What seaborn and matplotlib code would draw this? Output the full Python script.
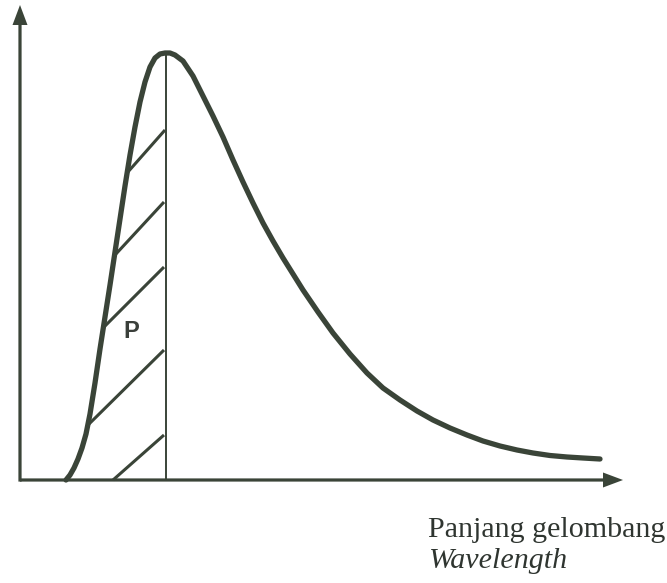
import numpy as np
import pandas as pd
import matplotlib
matplotlib.use("Agg")
import matplotlib.pyplot as plt
import seaborn as sns

# curve (x = wavelength position, y = intensity above the axis)
wavelength = [66, 70, 74, 78, 82, 86, 90, 95, 100, 105, 110, 115, 120, 125, 130, 135,
              140, 145, 150, 155, 160, 165, 170, 175, 183, 193, 203, 213, 223, 233,
              243, 253, 263, 273, 283, 293, 303, 318, 333, 350, 367, 383, 400, 417,
              433, 450, 467, 483, 500, 517, 533, 550, 567, 583, 600]
intensity = [0, 5, 12, 21, 32, 46, 66, 97, 131, 163, 195, 228, 261, 294, 325, 353,
             378, 398, 413, 422, 426, 427, 427, 425, 419, 404, 384, 364, 343, 320,
             298, 277, 257, 239, 222, 206, 190, 168, 147, 126, 107, 92, 80, 69,
             60, 52, 45, 39, 34, 30, 27, 24.5, 23, 22, 21]

# peak line and hatch strokes of area P
peak_x = 166
peak_y = 427
hatch_x0 = [127, 115, 103, 88, 113]
hatch_y0 = [307, 225, 152, 55, 0]
hatch_x1 = [165, 164, 164, 164, 164]
hatch_y1 = [350, 278, 213, 130, 45]

label_p = "P"
label_x1 = "Panjang gelombang"
label_x2 = "Wavelength"

ink = "#3a4438"

sns.set_theme(style="white")
fig = plt.figure(figsize=(6.67, 5.83), dpi=100)
ax = fig.add_axes([0, 0, 1, 1])
ax.set_xlim(0, 667)
ax.set_ylim(-103, 480)
ax.axis("off")

df = pd.DataFrame({"wavelength": wavelength, "intensity": intensity})
sns.lineplot(data=df, x="wavelength", y="intensity", sort=False, estimator=None,
             color=ink, lw=3.8, ax=ax, solid_capstyle="round")

# vertical line at the peak
ax.plot([peak_x, peak_x], [0, peak_y], color=ink, lw=1.4)

for x0, y0, x1, y1 in zip(hatch_x0, hatch_y0, hatch_x1, hatch_y1):
    ax.plot([x0, x1], [y0, y1], color=ink, lw=2.2, solid_capstyle="butt")

# axes with arrow heads
ax.arrow(20, 0, 603, 0, width=3.2, head_width=15, head_length=20,
         length_includes_head=True, color=ink, lw=0)
ax.arrow(20, -1.6, 0, 476.6, width=3.2, head_width=15, head_length=20,
         length_includes_head=True, color=ink, lw=0)

ax.text(131, 149, label_p, ha="center", va="center", fontsize=17,
        fontweight="bold", family="Liberation Sans", color="#3a3f3a")
ax.text(428, -57, label_x1, ha="left", va="baseline", fontsize=21.6,
        family="Liberation Serif", color="#2f3530")
ax.text(428, -88, label_x2, ha="left", va="baseline", fontsize=21.6,
        family="Liberation Serif", style="italic", color="#2f3530")

fig.savefig("out.png", dpi=100)
